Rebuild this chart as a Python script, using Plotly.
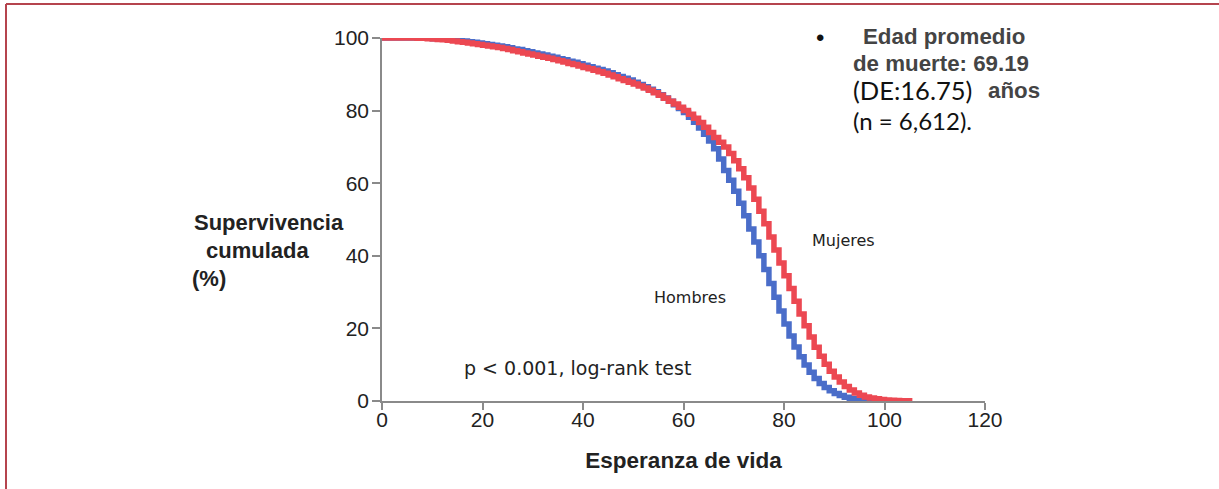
import plotly.graph_objects as go

# ---- data ----
ages_hombres = list(range(0, 98))
surv_hombres = [100, 100, 100, 100, 100, 100, 100, 99.9, 99.9, 99.9,
                99.8, 99.8, 99.7, 99.6, 99.5, 99.4, 99.2, 99.0, 98.8, 98.6,
                98.4, 98.2, 98.0, 97.8, 97.6, 97.3, 97.0, 96.8, 96.5, 96.2,
                95.9, 95.6, 95.3, 95.0, 94.7, 94.3, 94.0, 93.6, 93.3, 92.9,
                92.5, 92.1, 91.7, 91.3, 90.9, 90.4, 89.9, 89.4, 88.9, 88.4,
                87.8, 87.2, 86.6, 85.9, 85.2, 84.4, 83.5, 82.6, 81.6, 80.6,
                79.5, 78.2, 76.8, 75.2, 73.5, 71.6, 69.5, 66.7, 63.5, 60.8,
                57.8, 54.5, 51.0, 47.4, 43.8, 40.0, 36.2, 32.4, 28.6, 24.8,
                21.2, 17.9, 14.9, 12.2, 9.9, 7.9, 6.2, 4.8, 3.7, 2.8,
                2.1, 1.5, 1.0, 0.7, 0.4, 0.25, 0.1, 0.0]

ages_mujeres = list(range(0, 106))
surv_mujeres = [100, 100, 100, 100, 100, 100, 100, 99.9, 99.9, 99.8,
                99.7, 99.6, 99.5, 99.4, 99.2, 99.0, 98.8, 98.6, 98.4, 98.2,
                98.0, 97.8, 97.6, 97.4, 97.1, 96.8, 96.5, 96.2, 95.9, 95.6,
                95.3, 95.0, 94.7, 94.4, 94.1, 93.7, 93.4, 93.0, 92.7, 92.3,
                91.9, 91.5, 91.1, 90.7, 90.3, 89.8, 89.3, 88.8, 88.3, 87.8,
                87.3, 86.8, 86.2, 85.6, 84.9, 84.2, 83.4, 82.6, 81.8, 80.9,
                80.0, 79.0, 77.9, 76.7, 75.4, 74.0, 72.6, 71.3, 70.0, 68.2,
                66.2, 64.0, 61.5, 58.7, 55.6, 52.3, 48.8, 45.2, 41.6, 38.0,
                34.5, 31.0, 27.5, 24.0, 20.7, 17.6, 14.8, 12.3, 10.1, 8.2,
                6.6, 5.2, 4.0, 3.0, 2.2, 1.6, 1.1, 0.8, 0.6, 0.4,
                0.3, 0.2, 0.15, 0.1, 0.05, 0.0]

x_ticks = [0, 20, 40, 60, 80, 100, 120]
y_ticks = [0, 20, 40, 60, 80, 100]

BLUE = "#4A6DC9"
RED = "#EC4852"
AXIS = "#8a8a8a"

fig = go.Figure()
fig.add_trace(go.Scatter(x=ages_hombres, y=surv_hombres, mode="lines",
                         line=dict(color=BLUE, width=5.5, shape="hv"),
                         name="Hombres", cliponaxis=False))
fig.add_trace(go.Scatter(x=ages_mujeres, y=surv_mujeres, mode="lines",
                         line=dict(color=RED, width=5.5, shape="hv"),
                         name="Mujeres", cliponaxis=False))

axis_font = dict(family="Liberation Sans, Arial", size=21, color="#222")
fig.update_xaxes(range=[0, 120], tickvals=x_ticks, showgrid=False, zeroline=False,
                 showline=True, linecolor=AXIS, linewidth=1.5,
                 ticks="outside", ticklen=7, tickwidth=1.5, tickcolor=AXIS,
                 tickfont=axis_font, ticklabelstandoff=-8,
                 title=dict(text="<b>Esperanza de vida</b>",
                            font=dict(family="Liberation Sans, Arial", size=22.5, color="#222"),
                            standoff=22))
fig.update_yaxes(range=[0, 100], tickvals=y_ticks, showgrid=False, zeroline=False,
                 showline=True, linecolor=AXIS, linewidth=1.5,
                 ticks="outside", ticklen=8, tickwidth=1.5, tickcolor=AXIS,
                 tickfont=axis_font, ticklabelstandoff=-1)

W, H = 1219, 489
L, R, T, B = 382, 234, 38, 88
pw, ph = W - L - R, H - T - B

def px(xp):
    return (xp - L) / pw

def py(yp):
    return (H - B - yp) / ph

def note(text, xx, yy, font, anchor="left"):
    return dict(text=text, x=px(xx), y=py(yy), xref="paper", yref="paper",
                xanchor=anchor, yanchor="middle", showarrow=False, font=font)

anns = []
# y title
ytitle_font = dict(family="Liberation Sans, Arial", size=22, color="#222")
anns.append(note("<b>Supervivencia</b>", 192, 222, ytitle_font))
anns.append(note("<b>cumulada</b>", 204, 250, ytitle_font))
anns.append(note("<b>(%)</b>", 190, 278, ytitle_font))
# curve labels
lab_font = dict(family="DejaVu Sans", size=16, color="#222")
anns.append(note("Mujeres", 843, 240, lab_font, "center"))
anns.append(note("Hombres", 690, 297, lab_font, "center"))
anns.append(note("p < 0.001, log-rank test", 462, 368,
                 dict(family="DejaVu Sans", size=19, color="#222")))
# top-right note
bold_font = dict(family="Liberation Sans, Arial", size=22.3, color="#444", weight="bold")
anns.append(note("•", 820, 37, dict(family="Liberation Sans, Arial", size=24, color="#111"), "center"))
anns.append(note("Edad promedio", 861, 36.5, bold_font))
anns.append(note("de muerte: 69.19", 851, 63, bold_font))
anns.append(note("(DE:16.75)", 851, 90.5, dict(family="Lato", size=25.5, color="#111")))
anns.append(note("años", 986, 90.5, bold_font))
anns.append(note("(n = 6,612).", 851, 120.5, dict(family="Lato", size=24, color="#111")))

shapes = [
    dict(type="line", xref="paper", yref="paper", x0=px(6), x1=px(W + 5), y0=py(4), y1=py(4),
         line=dict(color="#B5444E", width=2)),
    dict(type="line", xref="paper", yref="paper", x0=px(6), x1=px(6), y0=py(4), y1=py(H + 5),
         line=dict(color="#B5444E", width=2)),
]

fig.update_layout(width=W, height=H, margin=dict(l=L, r=R, t=T, b=B),
                  paper_bgcolor="white", plot_bgcolor="white", showlegend=False,
                  annotations=anns, shapes=shapes)

fig.write_html("out.html", config={"displayModeBar": False},
               post_script="document.body.style.margin='0';document.body.style.overflow='hidden';")
